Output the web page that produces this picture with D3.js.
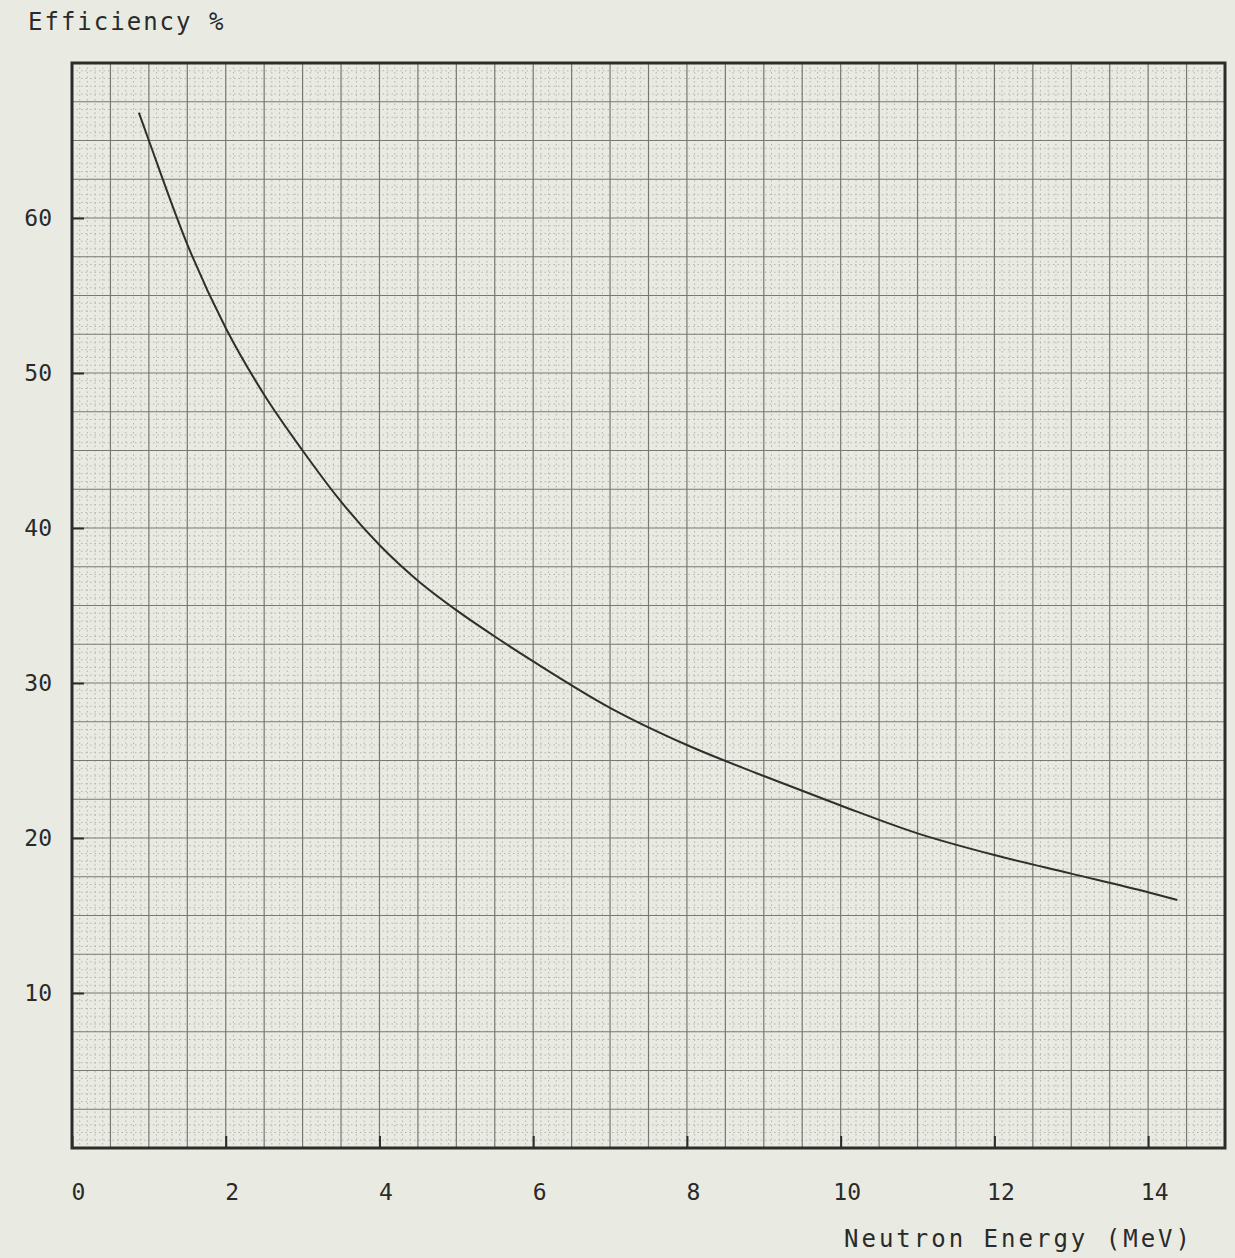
<!DOCTYPE html>
<meta charset="utf-8">
<style>
    body { margin: 0; background: #e9ebe2; }
    text { font-family: 'DejaVu Sans Mono', 'Liberation Mono', monospace; fill: #2a2a2a; }
</style>
<script src="https://d3js.org/d3.v7.min.js"></script>
<div id="my_dataviz"></div>
<script>

    // values
    var energy     = [0.87, 1.0, 1.5, 2.0, 2.5, 3.0, 3.5, 4.0, 4.5, 5.0, 5.5, 6.0, 7.0, 8.0, 9.0, 10.0, 11.0, 12.0, 13.0, 14.0, 14.38];
    var efficiency = [66.8, 65.0, 58.3, 52.9, 48.6, 45.0, 41.7, 38.9, 36.6, 34.7, 33.0, 31.4, 28.4, 26.0, 24.0, 22.1, 20.3, 18.9, 17.7, 16.5, 16.0];
    var xTicks = [0, 2, 4, 6, 8, 10, 12, 14];
    var yTicks = [10, 20, 30, 40, 50, 60];

    var margin = {top: 63, right: 10, bottom: 110, left: 72},
        width = 1225 - margin.left,
        height = 1148 - margin.top;

    var svg = d3.select("#my_dataviz")
      .append("svg")
        .attr("width", 1235)
        .attr("height", 1258)
      .append("g")
        .attr("transform", "translate(" + margin.left + "," + margin.top + ")");

    var x = d3.scaleLinear().domain([0, 15]).range([0, width]);
    var y = d3.scaleLinear().domain([0, 70]).range([height, 0]);

    // minor dotted grid (0.1 MeV / 0.5 %)
    var grid = svg.append("g");
    grid.selectAll(".vminor")
      .data(d3.range(1, 150).filter(function (i) { return i % 5 != 0; }))
      .enter().append("line")
        .attr("x1", function (i) { return x(i / 10); })
        .attr("x2", function (i) { return x(i / 10); })
        .attr("y1", 0).attr("y2", height)
        .style("stroke", "#b4b6ad").style("stroke-width", 1)
        .style("stroke-dasharray", "1.5,3");
    grid.selectAll(".hminor")
      .data(d3.range(1, 140).filter(function (i) { return i % 5 != 0; }))
      .enter().append("line")
        .attr("y1", function (i) { return y(i / 2); })
        .attr("y2", function (i) { return y(i / 2); })
        .attr("x1", 0).attr("x2", width)
        .style("stroke", "#b4b6ad").style("stroke-width", 1)
        .style("stroke-dasharray", "1.5,3");

    // solid grid (0.5 MeV / 2.5 %)
    grid.selectAll(".vmajor")
      .data(d3.range(1, 30))
      .enter().append("line")
        .attr("x1", function (i) { return x(i / 2); })
        .attr("x2", function (i) { return x(i / 2); })
        .attr("y1", 0).attr("y2", height)
        .style("stroke", "#777972").style("stroke-width", 1.2);
    grid.selectAll(".hmajor")
      .data(d3.range(1, 28))
      .enter().append("line")
        .attr("y1", function (i) { return y(i * 2.5); })
        .attr("y2", function (i) { return y(i * 2.5); })
        .attr("x1", 0).attr("x2", width)
        .style("stroke", "#777972").style("stroke-width", 1.2);

    // frame
    svg.append("rect")
      .attr("width", width).attr("height", height)
      .style("fill", "none").style("stroke", "#2c2c2a").style("stroke-width", 3);

    // axes, ticks pointing into the plot
    svg.append("g")
      .attr("transform", "translate(0," + height + ")")
      .call(d3.axisBottom(x).tickValues(xTicks).tickSize(-12).tickPadding(36))
      .call(function (g) { g.select(".domain").remove(); })
      .call(function (g) { g.selectAll("line").style("stroke", "#2c2c2a").style("stroke-width", 2); })
      .call(function (g) { g.selectAll("text").attr("dx", 6).style("font-size", "23px").style("fill", "#2a2a2a"); });

    svg.append("g")
      .call(d3.axisLeft(y).tickValues(yTicks).tickSize(-12).tickPadding(20))
      .call(function (g) { g.select(".domain").remove(); })
      .call(function (g) { g.selectAll("line").style("stroke", "#2c2c2a").style("stroke-width", 2); })
      .call(function (g) { g.selectAll("text").style("font-size", "23px").style("fill", "#2a2a2a"); });

    // curve
    var pts = energy.map(function (e, i) { return [e, efficiency[i]]; });
    svg.append("path")
      .datum(pts)
      .attr("d", d3.line()
        .x(function (d) { return x(d[0]); })
        .y(function (d) { return y(d[1]); })
        .curve(d3.curveMonotoneX))
      .style("fill", "none")
      .style("stroke", "#2f2f2d")
      .style("stroke-width", 2);

    // titles
    svg.append("text")
      .attr("x", -44)
      .attr("y", -33)
      .style("font-size", "24px")
      .style("letter-spacing", "2px")
      .text("Efficiency %");

    svg.append("text")
      .attr("x", 1121)
      .attr("y", 1247 - margin.top)
      .attr("text-anchor", "end")
      .style("font-size", "24px")
      .style("letter-spacing", "3px")
      .text("Neutron Energy (MeV)");

</script>
